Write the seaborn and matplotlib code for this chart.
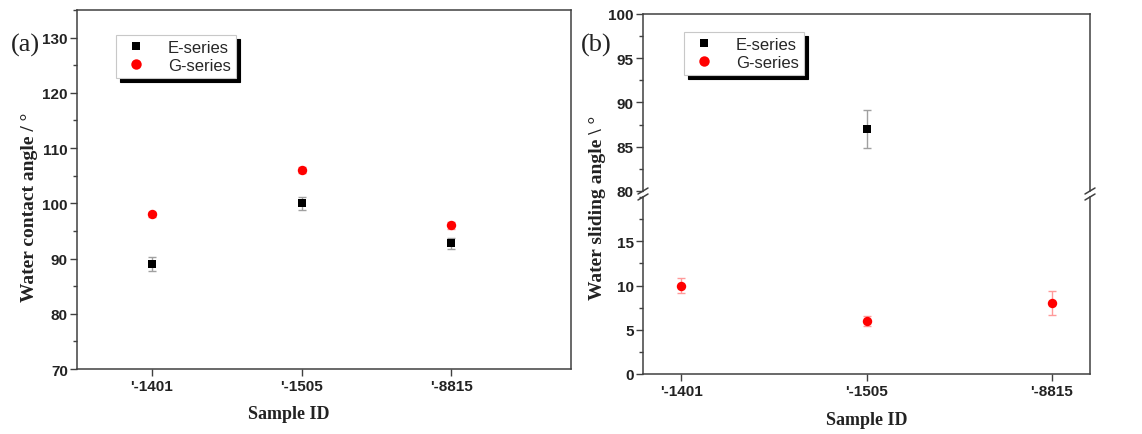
import numpy as np
import pandas as pd
import matplotlib
matplotlib.use("Agg")
import matplotlib.pyplot as plt
from matplotlib.lines import Line2D
from matplotlib.ticker import MultipleLocator
import seaborn as sns

# ── data ──────────────────────────────────────────────────────────────────
samples = ["'-1401", "'-1505", "'-8815"]

contact_e = [89.0, 100.0, 92.8]
contact_e_err = [1.3, 1.2, 1.0]
contact_g = [98.0, 106.0, 96.0]
contact_g_err = [0.5, 0.5, 0.6]

slide_e = [np.nan, 87.0, np.nan]
slide_e_err = [np.nan, 2.1, np.nan]
slide_g = [10.0, 6.0, 8.0]
slide_g_err = [0.9, 0.6, 1.35]

series_names = ["E-series", "G-series"]
series_colors = {"E-series": "black", "G-series": "#ff0000"}
err_colors = {"E-series": "#a0a0a0", "G-series": "#ff9a9a"}
series_markers = {"E-series": "s", "G-series": "o"}
series_sizes = {"E-series": 34, "G-series": 46}

W, H = 1142, 435
sns.set_style("white")
plt.rcParams["font.family"] = ["Liberation Sans", "DejaVu Sans"]
SPINE = "#404040"


def frame(vals, errs):
    return pd.DataFrame({"pos": np.arange(len(samples)), "sample": samples,
                         "value": vals, "err": errs})


def draw_series(ax, name, df):
    ok = df.dropna()
    ax.errorbar(ok["pos"], ok["value"], yerr=ok["err"], fmt="none",
                ecolor=err_colors[name], elinewidth=1.0, capsize=3,
                capthick=1.0, zorder=2)
    sns.scatterplot(data=ok, x="pos", y="value", ax=ax, color=series_colors[name],
                    marker=series_markers[name], s=series_sizes[name],
                    linewidth=0, label=name, zorder=3, legend=False)


def style_axis(ax, major, minor, bottom=True, top=True):
    for side in ["left", "right", "top", "bottom"]:
        ax.spines[side].set_color(SPINE)
        ax.spines[side].set_linewidth(1.1)
    ax.spines["top"].set_visible(top)
    ax.spines["bottom"].set_visible(bottom)
    ax.yaxis.set_major_locator(MultipleLocator(major))
    ax.yaxis.set_minor_locator(MultipleLocator(minor))
    ax.tick_params(axis="y", which="major", direction="out", length=5, width=1,
                   color=SPINE, left=True, right=False, pad=1.5,
                   labelsize=11, labelcolor="#222222")
    ax.tick_params(axis="y", which="minor", direction="out", length=3, width=1,
                   color=SPINE, left=True, right=False)
    ax.set_xlabel("")
    ax.set_ylabel("")
    if bottom:
        ax.set_xticks(range(len(samples)))
        ax.set_xticklabels(samples, fontweight="bold", fontsize=11, color="#222222")
        ax.tick_params(axis="x", direction="out", length=5, width=1, color=SPINE,
                       bottom=True, top=False, pad=2)
    else:
        ax.set_xticks([])


def bold_yticks(ax):
    for lab in ax.get_yticklabels():
        lab.set_fontweight("bold")


def add_legend(ax, handles, anchor):
    leg = ax.legend(handles=handles, loc="upper left", bbox_to_anchor=anchor,
                    frameon=True, fancybox=False, fontsize=12,
                    handlelength=1.8, handletextpad=1.0, labelspacing=0.15,
                    borderpad=0.3, borderaxespad=0,
                    shadow={"ox": 3, "oy": -3, "color": "black", "alpha": 1})
    leg.get_frame().set_edgecolor("#c8c8c8")
    leg.get_frame().set_linewidth(0.8)
    leg.get_frame().set_facecolor("white")
    return leg


fig = plt.figure(figsize=(W / 100, H / 100), dpi=100)

legend_handles = [
    Line2D([], [], linestyle="none", marker=series_markers[n], color=series_colors[n],
           markersize=6 if n == "E-series" else 7.5, markeredgewidth=0, label=n)
    for n in series_names
]

# ── (a) water contact angle ───────────────────────────────────────────────
ax_a = fig.add_axes([77 / W, 1 - 370 / H, 494 / W, 359 / H])
draw_series(ax_a, "E-series", frame(contact_e, contact_e_err))
draw_series(ax_a, "G-series", frame(contact_g, contact_g_err))
ax_a.set_xlim(-0.5, 2.8)
ax_a.set_ylim(70, 135)
style_axis(ax_a, 10, 5)
bold_yticks(ax_a)
add_legend(ax_a, legend_handles, (0.079, 0.93))

# ── (b) water sliding angle, broken axis ──────────────────────────────────
ax_hi = fig.add_axes([643 / W, 1 - 192 / H, 447 / W, 177 / H])
ax_lo = fig.add_axes([643 / W, 1 - 375 / H, 447 / W, 177 / H])
for ax in (ax_hi, ax_lo):
    draw_series(ax, "E-series", frame(slide_e, slide_e_err))
    draw_series(ax, "G-series", frame(slide_g, slide_g_err))
    ax.set_xlim(-0.205, 2.205)
ax_hi.set_ylim(80, 100)
ax_lo.set_ylim(0, 20)
style_axis(ax_hi, 5, 2.5, bottom=False, top=True)
style_axis(ax_lo, 5, 2.5, bottom=True, top=False)
ax_lo.set_yticks([0, 5, 10, 15])
bold_yticks(ax_hi)
bold_yticks(ax_lo)
add_legend(ax_hi, legend_handles, (0.092, 0.898))

# break marks on both side spines
for xpx in (643, 1090):
    for ypx in (192, 198):
        fig.add_artist(Line2D([(xpx - 5) / W, (xpx + 5) / W],
                              [1 - (ypx + 3) / H, 1 - (ypx - 3) / H],
                              color=SPINE, linewidth=1.1))

# ── labels ────────────────────────────────────────────────────────────────
lab_kw = dict(family=["Liberation Serif", "DejaVu Serif"], fontweight="bold",
              fontsize=14, color="#222222", ha="center", va="center")
fig.text(30 / W, 1 - 207 / H, "Water contact angle / °", rotation=90, **lab_kw)
fig.text(597 / W, 1 - 208 / H, "Water sliding angle \\ °", rotation=90, **lab_kw)
lab_kw["fontsize"] = 13
fig.text(289 / W, 1 - 415 / H, "Sample ID", **lab_kw)
fig.text(867 / W, 1 - 421 / H, "Sample ID", **lab_kw)

panel_kw = dict(family=["Liberation Serif", "DejaVu Serif"], fontsize=19,
                color="#222222", ha="center", va="center")
fig.text(25 / W, 1 - 45 / H, "(a)", **panel_kw)
fig.text(596 / W, 1 - 45 / H, "(b)", **panel_kw)

fig.savefig("out.png", dpi=100, facecolor="white")
